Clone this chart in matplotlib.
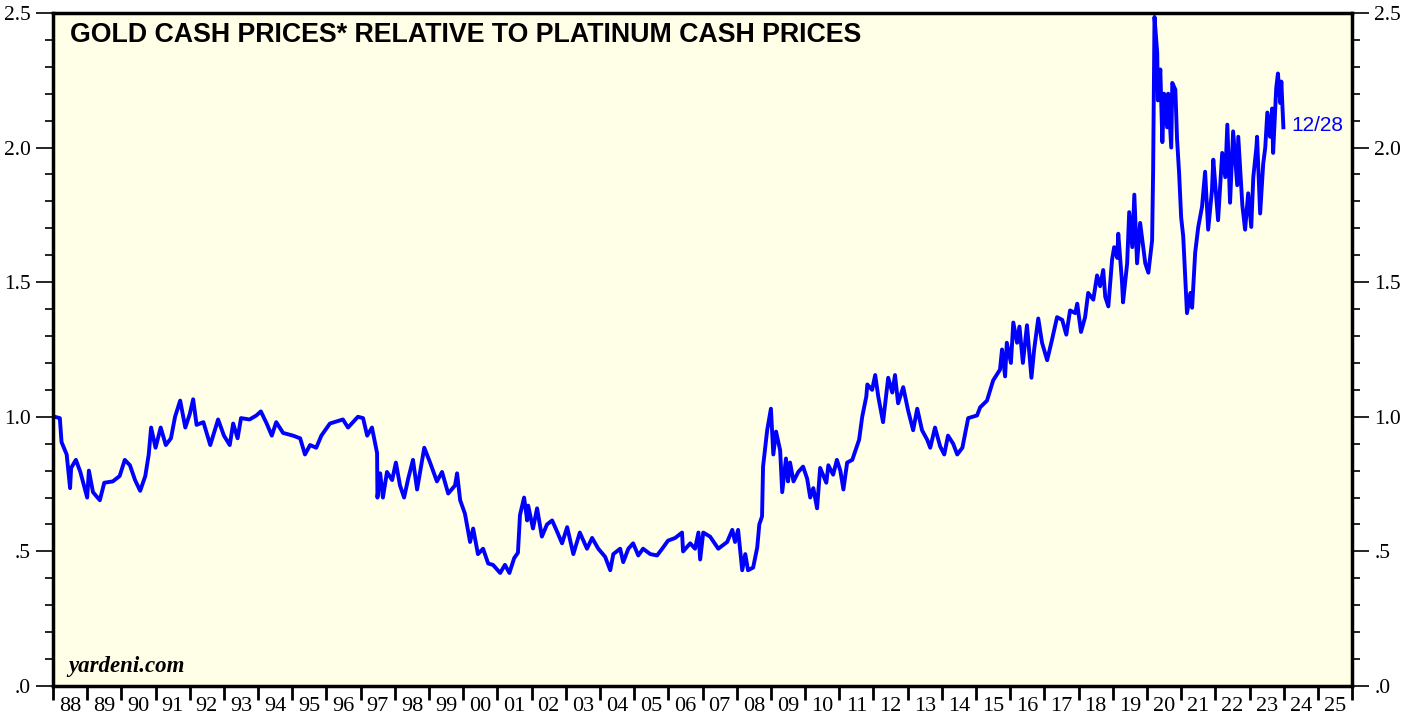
import numpy as np
import matplotlib
matplotlib.use("Agg")
import matplotlib.pyplot as plt
from matplotlib.ticker import MultipleLocator, FixedLocator

# gold / platinum ratio (decimal year, ratio)
years = [1988.05, 1988.2, 1988.25, 1988.4, 1988.5, 1988.53, 1988.67, 1988.8, 1989.0, 1989.05,
         1989.17, 1989.37, 1989.5, 1989.75, 1989.95, 1990.1, 1990.25, 1990.4, 1990.55, 1990.7,
         1990.8, 1990.87, 1991.0, 1991.15, 1991.3, 1991.45, 1991.57, 1991.72, 1991.87, 1992.0,
         1992.1, 1992.2, 1992.4, 1992.6, 1992.83, 1993.0, 1993.17, 1993.27, 1993.4, 1993.5,
         1993.75, 1993.95, 1994.08, 1994.25, 1994.4, 1994.53, 1994.73, 1995.02, 1995.23, 1995.37,
         1995.52, 1995.7, 1995.85, 1996.1, 1996.48, 1996.63, 1996.92, 1997.07, 1997.19, 1997.33,
         1997.48, 1997.49, 1997.57, 1997.65, 1997.77, 1997.92, 1998.03, 1998.15, 1998.27, 1998.39,
         1998.53, 1998.65, 1998.86, 1999.03, 1999.23, 1999.38, 1999.56, 1999.76, 1999.82, 1999.91,
         2000.05, 2000.2, 2000.29, 2000.43, 2000.58, 2000.73, 2000.87, 2001.08, 2001.22, 2001.35,
         2001.49, 2001.6, 2001.66, 2001.78, 2001.87, 2001.9, 2002.04, 2002.16, 2002.3, 2002.45,
         2002.6, 2002.74, 2002.89, 2003.04, 2003.22, 2003.41, 2003.62, 2003.77, 2003.95, 2004.15,
         2004.3, 2004.39, 2004.59, 2004.68, 2004.83, 2004.97, 2005.12, 2005.26, 2005.47, 2005.67,
         2005.82, 2005.99, 2006.2, 2006.4, 2006.43, 2006.64, 2006.78, 2006.88, 2006.93, 2007.02,
         2007.22, 2007.46, 2007.72, 2007.87, 2007.95, 2008.04, 2008.16, 2008.25, 2008.33, 2008.48,
         2008.6, 2008.66, 2008.74, 2008.77, 2008.89, 2009.0, 2009.07, 2009.15, 2009.27, 2009.33,
         2009.44, 2009.5, 2009.56, 2009.66, 2009.8, 2009.94, 2010.06, 2010.15, 2010.24, 2010.35,
         2010.44, 2010.62, 2010.68, 2010.82, 2010.93, 2011.03, 2011.12, 2011.23, 2011.38, 2011.46,
         2011.58, 2011.67, 2011.79, 2011.82, 2011.96, 2012.05, 2012.14, 2012.28, 2012.43, 2012.55,
         2012.63, 2012.72, 2012.87, 2013.01, 2013.16, 2013.28, 2013.42, 2013.57, 2013.66, 2013.8,
         2013.95, 2014.07, 2014.18, 2014.33, 2014.45, 2014.6, 2014.77, 2014.9, 2015.03, 2015.12,
         2015.32, 2015.5, 2015.7, 2015.76, 2015.85, 2015.9, 2016.02, 2016.09, 2016.2, 2016.27,
         2016.37, 2016.49, 2016.62, 2016.7, 2016.82, 2016.93, 2017.08, 2017.22, 2017.37, 2017.52,
         2017.64, 2017.75, 2017.9, 2017.96, 2018.07, 2018.19, 2018.28, 2018.43, 2018.54, 2018.63,
         2018.72, 2018.78, 2018.87, 2018.98, 2019.04, 2019.13, 2019.16, 2019.27, 2019.3, 2019.42,
         2019.48, 2019.57, 2019.63, 2019.71, 2019.8, 2019.95, 2020.04, 2020.15, 2020.18, 2020.22,
         2020.3, 2020.32, 2020.39, 2020.45, 2020.5, 2020.59, 2020.62, 2020.71, 2020.74, 2020.83,
         2020.88, 2020.94, 2021.0, 2021.06, 2021.12, 2021.17, 2021.27, 2021.32, 2021.41, 2021.5,
         2021.61, 2021.7, 2021.79, 2021.9, 2021.94, 2022.08, 2022.2, 2022.29, 2022.35, 2022.43,
         2022.52, 2022.64, 2022.67, 2022.79, 2022.87, 2022.96, 2023.05, 2023.11, 2023.2, 2023.22,
         2023.31, 2023.4, 2023.46, 2023.52, 2023.6, 2023.66, 2023.69, 2023.78, 2023.83, 2023.9,
         2023.93, 2023.99]

ratio = [1.00, 0.995, 0.906, 0.86, 0.735, 0.81, 0.84, 0.795, 0.70, 0.80,
         0.72, 0.69, 0.755, 0.76, 0.78, 0.84, 0.82, 0.765, 0.725, 0.78,
         0.86, 0.96, 0.885, 0.96, 0.895, 0.92, 1.0, 1.06, 0.96, 1.01,
         1.065, 0.97, 0.98, 0.895, 0.99, 0.93, 0.895, 0.975, 0.92, 0.995,
         0.99, 1.005, 1.02, 0.975, 0.93, 0.98, 0.94, 0.93, 0.92, 0.86,
         0.895, 0.885, 0.93, 0.975, 0.99, 0.96, 1.0, 0.995, 0.93, 0.96,
         0.865, 0.70, 0.79, 0.70, 0.795, 0.765, 0.83, 0.745, 0.70, 0.77,
         0.84, 0.73, 0.885, 0.83, 0.76, 0.795, 0.715, 0.745, 0.79, 0.69,
         0.64, 0.535, 0.585, 0.49, 0.51, 0.455, 0.45, 0.42, 0.45, 0.42,
         0.475, 0.495, 0.635, 0.70, 0.615, 0.67, 0.585, 0.66, 0.555, 0.60,
         0.615, 0.575, 0.53, 0.59, 0.49, 0.57, 0.51, 0.55, 0.51, 0.48,
         0.43, 0.49, 0.51, 0.46, 0.51, 0.53, 0.485, 0.51, 0.49, 0.485,
         0.51, 0.54, 0.55, 0.57, 0.50, 0.53, 0.51, 0.57, 0.47, 0.57,
         0.555, 0.51, 0.535, 0.58, 0.535, 0.58, 0.43, 0.49, 0.43, 0.44,
         0.515, 0.60, 0.63, 0.815, 0.95, 1.03, 0.86, 0.945, 0.875, 0.72,
         0.845, 0.76, 0.83, 0.76, 0.795, 0.815, 0.77, 0.70, 0.735, 0.66,
         0.81, 0.755, 0.82, 0.785, 0.84, 0.80, 0.73, 0.83, 0.84, 0.87,
         0.915, 1.0, 1.075, 1.12, 1.10, 1.155, 1.075, 0.98, 1.145, 1.09,
         1.155, 1.05, 1.11, 1.025, 0.95, 1.03, 0.95, 0.915, 0.885, 0.96,
         0.89, 0.86, 0.93, 0.90, 0.86, 0.885, 0.995, 1.0, 1.005, 1.035,
         1.06, 1.135, 1.175, 1.25, 1.15, 1.275, 1.20, 1.35, 1.275, 1.335,
         1.20, 1.34, 1.145, 1.25, 1.365, 1.275, 1.21, 1.285, 1.37, 1.36,
         1.305, 1.395, 1.385, 1.42, 1.315, 1.37, 1.46, 1.435, 1.525, 1.485,
         1.545, 1.445, 1.41, 1.585, 1.63, 1.59, 1.68, 1.50, 1.425, 1.57,
         1.76, 1.63, 1.825, 1.57, 1.72, 1.57, 1.535, 1.655, 1.915, 2.485,
         2.35, 2.175, 2.29, 2.02, 2.20, 2.075, 2.20, 2.00, 2.24, 2.215,
         2.03, 1.905, 1.74, 1.67, 1.51, 1.385, 1.46, 1.405, 1.61, 1.705,
         1.78, 1.91, 1.695, 1.84, 1.955, 1.73, 1.98, 1.89, 2.085, 1.795,
         2.06, 1.86, 2.04, 1.785, 1.695, 1.83, 1.705, 1.89, 2.00, 2.04,
         1.755, 1.94, 2.00, 2.13, 2.04, 2.145, 1.98, 2.22, 2.275, 2.165,
         2.245, 2.075]

year_labels = ["%02d" % (y % 100) for y in range(1988, 2026)]
y_ticks = [0.0, 0.5, 1.0, 1.5, 2.0, 2.5]
y_labels = [".0", ".5", "1.0", "1.5", "2.0", "2.5"]
last_date = "12/28"

fig = plt.figure(figsize=(14.17, 7.17), dpi=100)
ax = fig.add_axes([0.0374, 0.0432, 0.9168, 0.9388])
ax.set_facecolor("#FFFEE6")

ax.plot(years, ratio, color="#0000FF", lw=2.8, solid_joinstyle="round")

ax.set_xlim(1988, 2026)
ax.set_ylim(0, 2.5)

# x axis: ticks at year boundaries, labels centred in each year
ax.xaxis.set_major_locator(FixedLocator(np.arange(1988, 2027)))
ax.xaxis.set_minor_locator(FixedLocator(np.arange(1988, 2026) + 0.5))
ax.set_xticklabels([])
ax.set_xticklabels(year_labels, minor=True)
ax.tick_params(axis="x", which="major", direction="out", length=10, width=2)
ax.tick_params(axis="x", which="minor", length=0, pad=8)

ax.set_yticks(y_ticks)
ax.set_yticklabels(y_labels)
ax.yaxis.set_minor_locator(MultipleLocator(0.1))
ax.tick_params(axis="y", which="major", direction="out", length=12, width=1.2,
               left=True, right=True, labelleft=True, labelright=True, pad=4)
ax.tick_params(axis="y", which="minor", direction="out", length=6, width=1.2,
               left=True, right=True)

for lab in ax.get_xticklabels(minor=True):
    lab.set_fontfamily("Liberation Serif")
    lab.set_fontsize(16)
for t in ax.yaxis.get_major_ticks():
    for lab in (t.label1, t.label2):
        lab.set_fontfamily("Liberation Serif")
        lab.set_fontsize(15.5)

for s in ax.spines.values():
    s.set_linewidth(2.5)

ax.text(0.013, 0.987, "GOLD CASH PRICES* RELATIVE TO PLATINUM CASH PRICES",
        transform=ax.transAxes, ha="left", va="top", fontsize=19.3,
        fontweight="bold", fontfamily="Liberation Sans")
ax.text(0.0115, 0.013, "yardeni.com", transform=ax.transAxes, ha="left",
        va="bottom", fontsize=16.5, fontweight="bold", fontstyle="italic",
        fontfamily="Liberation Serif")
ax.text(2024.22, 2.08, last_date, color="#0000FF", ha="left", va="center",
        fontsize=15, fontfamily="Liberation Sans")

fig.savefig("out.png", dpi=100)
